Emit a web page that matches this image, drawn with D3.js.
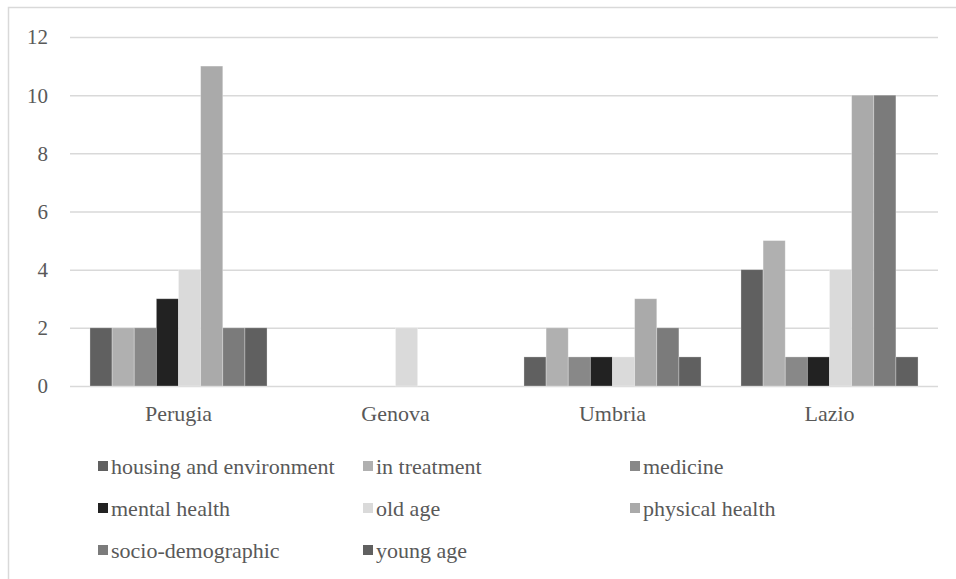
<!DOCTYPE html>
<html>
<head>
<meta charset="utf-8">
<script src="https://cdn.jsdelivr.net/npm/d3@7"></script>
<style>
  body { margin: 0; background: #fff; }
  svg text { fill: #595959; }
</style>
</head>
<body>
<div id="chart"></div>
<script>
var regions = ["Perugia", "Genova", "Umbria", "Lazio"];
var series = ["housing and environment", "in treatment", "medicine", "mental health",
              "old age", "physical health", "socio-demographic", "young age"];
var colors = ["#606060", "#b0b0b0", "#888888", "#222222", "#dadada", "#aaaaaa", "#7b7b7b", "#606060"];
// values per region, in series order
var perugia = [2, 2, 2, 3, 4, 11, 2, 2];
var genova  = [0, 0, 0, 0, 2, 0, 0, 0];
var umbria  = [1, 2, 1, 1, 1, 3, 2, 1];
var lazio   = [4, 5, 1, 1, 4, 10, 10, 1];
var yTicks = [0, 2, 4, 6, 8, 10, 12];

var values = [perugia, genova, umbria, lazio];
var font = "'Liberation Serif', 'Times New Roman', Times, 'DejaVu Serif', serif";

var W = 956, H = 579;
var margin = {top: 37, left: 70, right: 18, bottom: 193};
var width = W - margin.left - margin.right,
    height = H - margin.top - margin.bottom;

var svg = d3.select("#chart").append("svg")
    .attr("width", W).attr("height", H)
    .attr("font-family", font);

// outer border of the chart area
svg.append("rect")
    .attr("x", 8.5).attr("y", 7.5)
    .attr("width", W + 20).attr("height", H + 20)
    .attr("fill", "none").attr("stroke", "#d9d9d9").attr("stroke-width", 1.5);

var g = svg.append("g")
    .attr("transform", "translate(" + margin.left + "," + margin.top + ")");

var x0 = d3.scaleBand().domain(regions).range([0, width]).paddingInner(0).paddingOuter(0);
var x1 = d3.scaleBand().domain(series)
    .range([x0.bandwidth() * 0.092, x0.bandwidth() * 0.908]);
var y = d3.scaleLinear().domain([0, 12]).range([height, 0]);

// grid lines
g.selectAll(".grid").data(yTicks).enter().append("line")
    .attr("x1", 0).attr("x2", width)
    .attr("y1", function(d) { return y(d) + 0.5; })
    .attr("y2", function(d) { return y(d) + 0.5; })
    .attr("stroke", "#d9d9d9").attr("stroke-width", 1.5);

// y tick labels
g.selectAll(".ylab").data(yTicks).enter().append("text")
    .attr("x", -22).attr("y", function(d) { return y(d); })
    .attr("dy", "0.35em")
    .attr("text-anchor", "end")
    .attr("font-size", "21px")
    .text(function(d) { return d; });

// bars
var groups = g.selectAll(".grp").data(regions).enter().append("g")
    .attr("transform", function(d) { return "translate(" + x0(d) + ",0)"; });

groups.selectAll("rect")
    .data(function(d, i) {
        return series.map(function(s, j) { return {s: s, v: values[i][j], c: colors[j]}; });
    })
    .enter().append("rect")
    .attr("x", function(d) { return x1(d.s); })
    .attr("width", x1.bandwidth())
    .attr("y", function(d) { return y(d.v); })
    .attr("height", function(d) { return height - y(d.v); })
    .attr("fill", function(d) { return d.c; })
    .attr("stroke", "#ffffff").attr("stroke-opacity", 0.35).attr("stroke-width", 0.8);

// x category labels
g.selectAll(".xlab").data(regions).enter().append("text")
    .attr("x", function(d) { return x0(d) + x0.bandwidth() / 2; })
    .attr("y", height + 27)
    .attr("dy", "0.35em")
    .attr("text-anchor", "middle")
    .attr("font-size", "22px")
    .text(function(d) { return d; });

// legend: 3 columns
var colX = [98, 363, 630];
var rowY = [466, 508, 550];
var legend = svg.selectAll(".leg").data(series).enter().append("g")
    .attr("transform", function(d, i) {
        return "translate(" + colX[i % 3] + "," + rowY[Math.floor(i / 3)] + ")";
    });
legend.append("rect")
    .attr("x", 0).attr("y", -5).attr("width", 10).attr("height", 10)
    .attr("fill", function(d, i) { return colors[i]; });
legend.append("text")
    .attr("x", 13).attr("y", 0).attr("dy", "0.35em")
    .attr("font-size", "22px")
    .text(function(d) { return d; });
</script>
</body>
</html>
